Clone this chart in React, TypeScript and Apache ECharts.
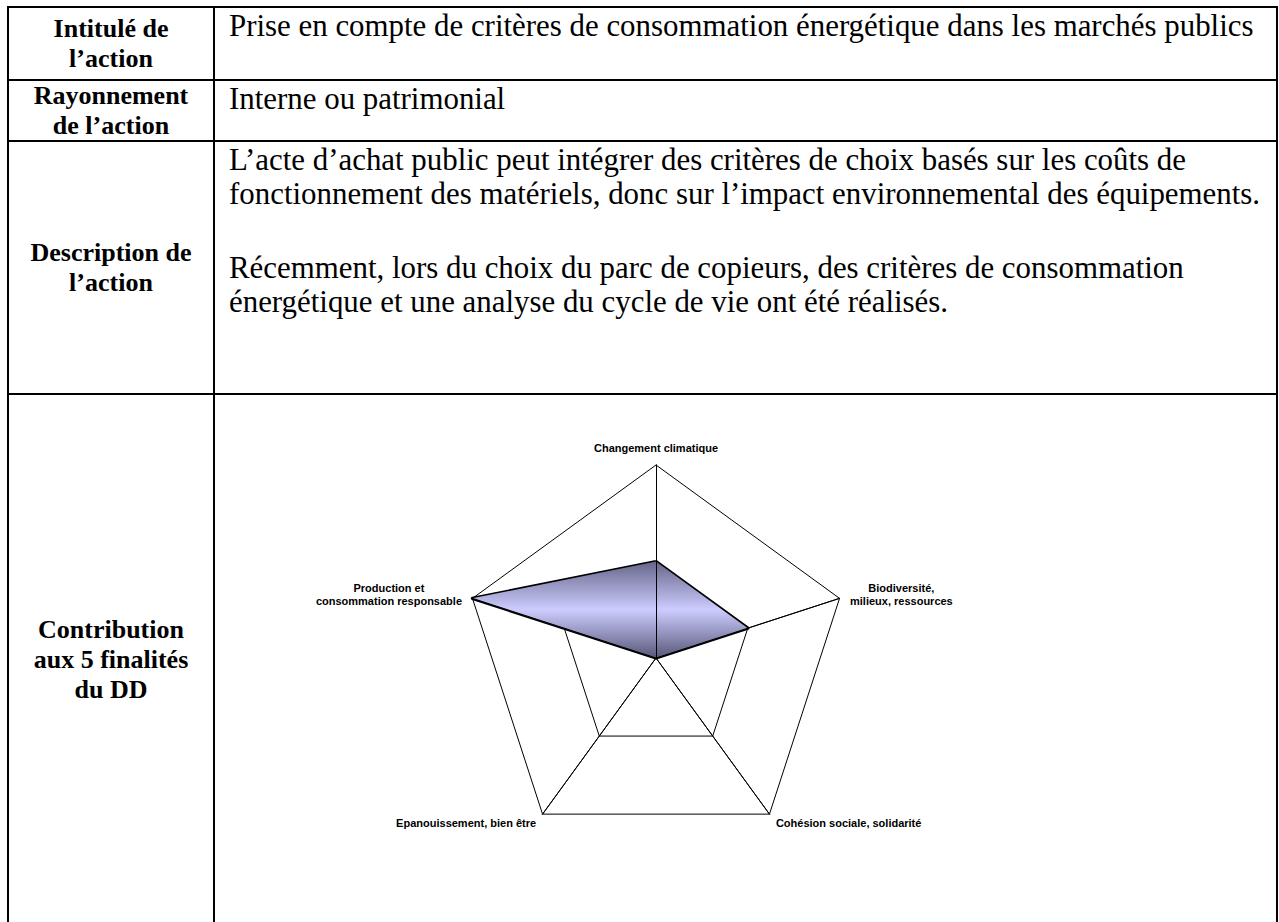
import React, { useEffect, useRef } from "react";
import * as echarts from "echarts";

// ---- table content ----
const rowHeaders: string[][] = [
  ["Intitulé de", "l’action"],
  ["Rayonnement", "de l’action"],
  ["Description de", "l’action"],
  ["Contribution", "aux 5 finalités", "du DD"],
];
const actionTitle = ["Prise en compte de critères de consommation énergétique dans les marchés publics"];
const actionScope = ["Interne ou patrimonial"];
const actionDescription = [
  "L’acte d’achat public peut intégrer des critères de choix basés sur les coûts de",
  "fonctionnement des matériels, donc sur l’impact environnemental des équipements.",
  "",
  "Récemment, lors du choix du parc de copieurs, des critères de consommation",
  "énergétique et une analyse du cycle de vie ont été réalisés.",
];

// ---- radar data (listed counter-clockwise from the top) ----
const axisNames = [
  "Changement climatique",
  "Production et\nconsommation responsable",
  "Epanouissement, bien être",
  "Cohésion sociale, solidarité",
  "Biodiversité,\nmilieux, ressources",
];
const scores = [1, 2, 0, 0, 1];
const scoreMax = 2;

// ---- layout (page px) ----
const X_LEFT = 8;
const X_DIV = 214;
const X_RIGHT = 1276.5;
const Y_ROWS = [7, 80, 141, 394, 926];
const BORDER = 2;

const serif = "'Liberation Serif', 'Times New Roman', serif";

function RadarChart() {
  const ref = useRef<HTMLDivElement>(null);
  useEffect(() => {
    if (!ref.current) return;
    const chart = echarts.init(ref.current, undefined, { renderer: "svg" });
    const indicators = axisNames.map((n) => ({ name: n, min: 0, max: scoreMax }));
    const center = [441, 263];
    const radius = 193;
    const labelFont = {
      fontFamily: "'Liberation Sans', Arial, sans-serif",
      fontSize: 11,
      fontWeight: "bold" as const,
      color: "#000",
      lineHeight: 13,
    };
    chart.setOption({
      animation: false,
      radar: [
        {
          center,
          radius,
          startAngle: 90,
          splitNumber: 2,
          shape: "polygon",
          indicator: indicators,
          nameGap: 11,
          axisName: {
            show: true,
            ...labelFont,
            formatter: (name: string) =>
              name
                .split("\n")
                .map((l) => `{c|${l}}`)
                .join("\n"),
            rich: { c: { ...labelFont, align: "center" } },
          },
          splitLine: { lineStyle: { color: "#000", width: 1 } },
          splitArea: { show: false },
          axisLine: { lineStyle: { color: "#000", width: 1 } },
          axisTick: { show: false },
          axisLabel: { show: false },
          z: 1,
        },
        {
          center,
          radius,
          startAngle: 90,
          splitNumber: 2,
          shape: "polygon",
          indicator: indicators,
          axisName: { show: false },
          splitLine: { show: false },
          splitArea: { show: false },
          axisLine: { lineStyle: { color: "#000", width: 1 } },
          axisTick: { show: false },
          axisLabel: { show: false },
          z: 3,
        },
      ],
      series: [
        {
          type: "radar",
          radarIndex: 0,
          z: 2,
          symbol: "none",
          lineStyle: { color: "#000", width: 3.3 },
          areaStyle: {
            opacity: 1,
            color: new echarts.graphic.LinearGradient(0, 0, 0, 1, [
              { offset: 0, color: "#66668a" },
              { offset: 0.5, color: "#ccccff" },
              { offset: 1, color: "#58587a" },
            ]),
          },
          data: [{ value: scores, name: "Contribution" }],
        },
      ],
    });
    return () => chart.dispose();
  }, []);
  return (
    <div
      ref={ref}
      style={{
        position: "absolute",
        left: X_DIV + 1,
        top: Y_ROWS[3] + 1,
        width: 1060,
        height: 527,
      }}
    />
  );
}

export default function App() {
  const hLines = Y_ROWS.slice(0, 4);
  const vLines = [X_LEFT, X_DIV, X_RIGHT];
  const rightTexts = [actionTitle, actionScope, actionDescription];
  return (
    <div
      style={{
        position: "fixed",
        left: 0,
        top: 0,
        width: 1279,
        height: 922,
        overflow: "hidden",
        background: "#fff",
        color: "#000",
        fontFamily: serif,
      }}
    >
      {/* left header cells */}
      {rowHeaders.map((lines, i) => (
        <div
          key={"h" + i}
          style={{
            position: "absolute",
            left: X_LEFT,
            width: X_DIV - X_LEFT,
            top: Y_ROWS[i],
            height: Y_ROWS[i + 1] - Y_ROWS[i],
            display: "flex",
            flexDirection: "column",
            justifyContent: "center",
            alignItems: "center",
            fontWeight: "bold",
            fontSize: 26,
            lineHeight: "30px",
            textAlign: "center",
          }}
        >
          {lines.map((l, j) => (
            <div key={j} style={{ whiteSpace: "nowrap" }}>
              {l}
            </div>
          ))}
        </div>
      ))}
      {/* right content cells */}
      {rightTexts.map((lines, i) => (
        <div
          key={"r" + i}
          style={{
            position: "absolute",
            left: 229,
            top: Y_ROWS[i] + 1.5,
            fontSize: 30.9,
            lineHeight: "34px",
          }}
        >
          {lines.map((l, j) => (
            <div key={j} style={{ whiteSpace: "nowrap", height: l === "" ? 40 : 34 }}>
              {l}
            </div>
          ))}
        </div>
      ))}
      <RadarChart />
      {/* borders */}
      {hLines.map((y, i) => (
        <div
          key={"hl" + i}
          style={{
            position: "absolute",
            left: X_LEFT - BORDER / 2,
            width: X_RIGHT - X_LEFT + BORDER,
            top: y - BORDER / 2,
            height: BORDER,
            background: "#000",
          }}
        />
      ))}
      {vLines.map((x, i) => (
        <div
          key={"vl" + i}
          style={{
            position: "absolute",
            left: x - BORDER / 2,
            width: BORDER,
            top: Y_ROWS[0] - BORDER / 2,
            height: 930,
            background: "#000",
          }}
        />
      ))}
    </div>
  );
}
